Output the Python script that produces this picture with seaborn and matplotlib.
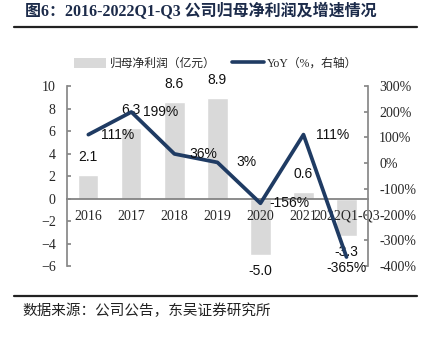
import numpy as np
import pandas as pd
import matplotlib
matplotlib.use("Agg")
import matplotlib.pyplot as plt
from matplotlib.lines import Line2D
from matplotlib.patches import Patch
import seaborn as sns

categories = ["2016", "2017", "2018", "2019", "2020", "2021", "2022Q1-Q3"]
profit = [2.1, 6.3, 8.6, 8.9, -5.0, 0.6, -3.3]          # 归母净利润（亿元）
yoy = [111, 199, 36, 3, -156, 111, -365]                  # YoY（%）
left_ticks = [-6, -4, -2, 0, 2, 4, 6, 8, 10]
right_ticks = [-400, -300, -200, -100, 0, 100, 200, 300]

BAR_C = "#d9d9d9"
LINE_C = "#1f3b63"
AXIS_C = "#888888"

sns.set_theme(style="white")
plt.rcParams["font.family"] = ["Liberation Serif", "Noto Sans CJK SC"]

df = pd.DataFrame({"cat": categories, "profit": profit, "yoy": yoy})
df["pos"] = np.arange(len(df))

fig = plt.figure(figsize=(4.23, 3.40), dpi=100)
ax = fig.add_axes([0.158, 0.2176, 0.712, 0.5294])
ax2 = ax.twinx()

sns.barplot(data=df, x="cat", y="profit", color=BAR_C, width=0.47,
            saturation=1, ax=ax, zorder=1)
sns.lineplot(data=df, x="pos", y="yoy", color=LINE_C, linewidth=2.7,
             ax=ax2, legend=False)

ax.set_ylim(-6, 10)
ax.set_yticks(left_ticks)
ax2.set_ylim(-400, 300)
ax2.set_yticks(right_ticks)
ax2.set_yticklabels([f"{v}%" for v in right_ticks])
ax.set_xlim(-0.5, len(categories) - 0.5)
ax.set_xlabel("")
ax.set_ylabel("")
ax2.set_xlabel("")
ax2.set_ylabel("")

for a in (ax, ax2):
    for s in a.spines.values():
        s.set_visible(False)
    a.grid(False)
    a.tick_params(axis="y", direction="in", length=3, color=AXIS_C,
                  labelsize=10, pad=8)

ax.set_axisbelow(False)
ax.spines["left"].set_visible(True)
ax.spines["left"].set_color(AXIS_C)
ax2.spines["right"].set_visible(True)
ax2.spines["right"].set_color(AXIS_C)
ax.spines["bottom"].set_visible(True)
ax.spines["bottom"].set_position(("data", 0))
ax.spines["bottom"].set_color("#7f7f7f")
ax.tick_params(axis="x", which="major", length=0, labelsize=10, pad=8)
ax.set_xticks(np.arange(len(categories)) + 0.5, minor=True)
ax.tick_params(axis="x", which="minor", direction="in", length=3,
               color=AXIS_C)
ax2.tick_params(axis="x", length=0)
for lbl in ax.get_xticklabels() + ax.get_yticklabels() + ax2.get_yticklabels():
    lbl.set_family(["Liberation Serif"])

ax.set_zorder(1)
ax2.set_zorder(2)
ax.patch.set_visible(False)

# bar value labels
for i, v in enumerate(profit):
    off = 13 if v >= 0 else -12
    ax.annotate(f"{v:.1f}", (i, v), xytext=(0, off), textcoords="offset points",
                ha="center", va="center", fontsize=10,
                family=["Liberation Sans"], color="#111111", zorder=5)

# growth labels
for i, v in enumerate(yoy):
    if i == len(yoy) - 1:
        xy_off = (0, -8)
    else:
        xy_off = (21, 0)
    ax2.annotate(f"{v}%", (i, v), xytext=xy_off, textcoords="offset points",
                 ha="center", va="center", fontsize=10,
                 family=["Liberation Sans"], color="#111111", zorder=5)

# legend
handles = [Patch(facecolor=BAR_C, edgecolor="none"),
           Line2D([], [], color=LINE_C, linewidth=2.6)]
fig.legend(handles, ["归母净利润（亿元）", "YoY（%，右轴）"],
           loc="center", bbox_to_anchor=(0.51, 0.812), ncol=2, frameon=False,
           handlelength=2.7, handleheight=0.9,
           columnspacing=1.4, handletextpad=0.3,
           prop={"family": ["Liberation Serif", "Noto Sans CJK SC"], "size": 8.5})

# title and rules
fig.text(0.059, 0.965, "图6：2016-2022Q1-Q3 公司归母净利润及增速情况",
         ha="left", va="center", fontsize=11.5, fontweight="bold",
         color="#1c2b4a", family=["Liberation Serif", "Noto Sans CJK SC"])
fig.add_artist(Line2D([0.033, 0.986], [0.922, 0.922], color="#222222",
                      linewidth=1.6))
fig.add_artist(Line2D([0.033, 0.986], [0.129, 0.129], color="#222222",
                      linewidth=1.6))
fig.text(0.054, 0.085, "数据来源：公司公告，东吴证券研究所", ha="left",
         va="center", fontsize=10.5, color="#222222",
         family=["Noto Sans CJK SC"])

fig.savefig("out.png", dpi=100, facecolor="white")
